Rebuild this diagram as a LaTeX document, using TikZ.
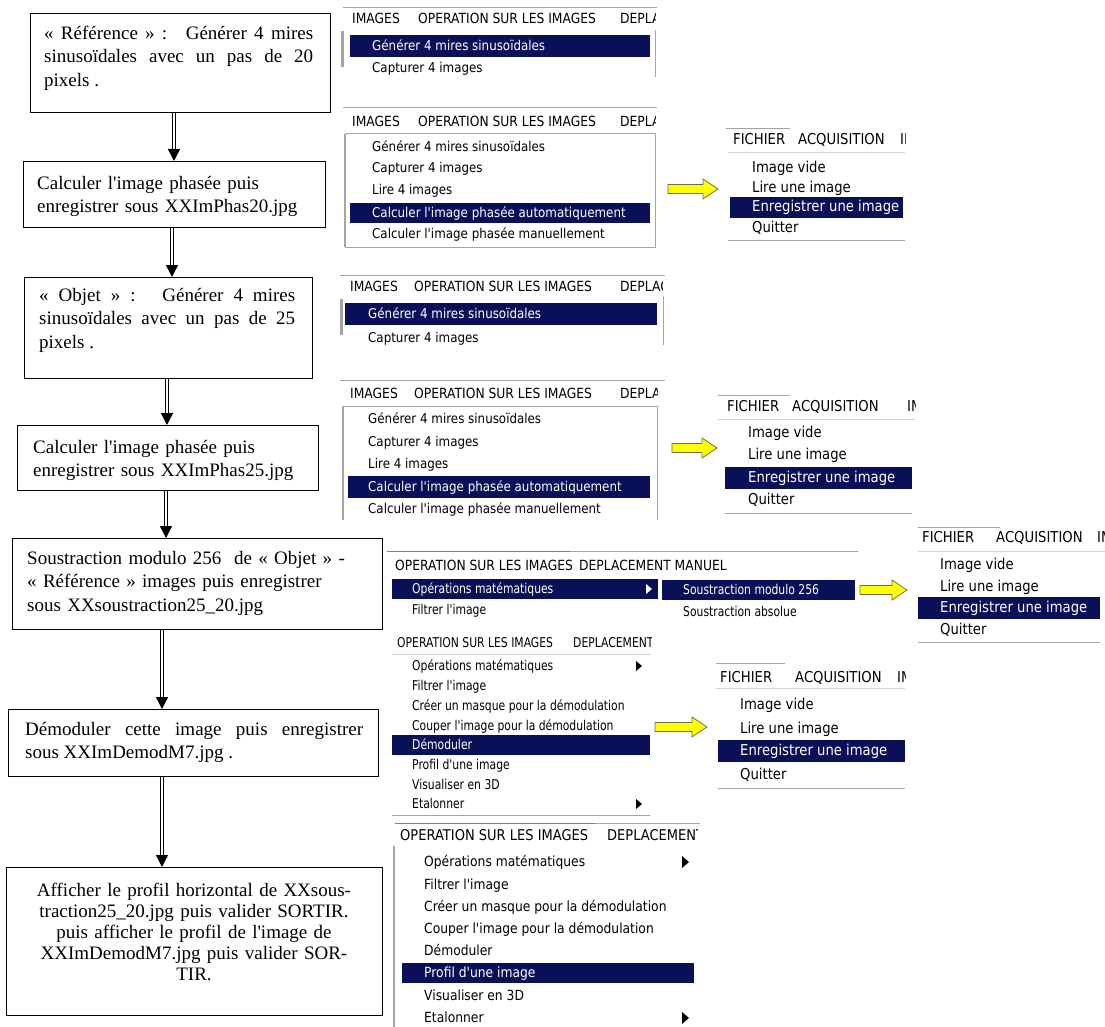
\documentclass[tikz,border=0pt]{standalone}
\usepackage{fontspec}
\setmainfont{Liberation Serif}
\newfontfamily\mf{DejaVu Sans}[FakeStretch=0.88]
\newfontfamily\mfc{DejaVu Sans}[FakeStretch=0.80]
\usetikzlibrary{arrows.meta}
\definecolor{hlnavy}{RGB}{10,16,88}
\definecolor{frm}{RGB}{165,165,165}
\definecolor{yel}{RGB}{255,255,0}
\definecolor{yedge}{RGB}{110,110,70}
\begin{document}
\begin{tikzpicture}[x=1pt,y=-1pt,
  box/.style={draw, line width=1.1pt, anchor=north west, inner sep=0pt},
  btext/.style={anchor=north west, inner sep=0pt, font=\fontsize{19}{23.5}\selectfont},
  dblarrow/.style={double, double distance=2pt, line width=1.4pt, -{Triangle[length=12pt,width=12pt]}},
  mi/.style={anchor=west, inner sep=0pt, text height=11pt, text depth=2pt, font=\mf\fontsize{13.5}{15}\selectfont},
  mbar/.style={mi, font=\mf\fontsize{14}{15}\selectfont},
  mbarg/.style={mi, font=\mf\fontsize{14.8}{16}\selectfont},
  mic/.style={mi, font=\mfc\fontsize{13.5}{15}\selectfont},
  mig/.style={mi, font=\mf\fontsize{14}{16}\selectfont},
  mif/.style={mi, font=\mf\fontsize{15}{17}\selectfont},
  wt/.style={text=white},
  hl/.style={fill=hlnavy},
  mline/.style={draw=frm, line width=1pt},
  yarrow/.pic={\draw[fill=yel, draw=yedge, line width=0.8pt]
     (0,-4.5) -- (#1-15,-4.5) -- (#1-15,-10) -- (#1,0) -- (#1-15,10) -- (#1-15,4.5) -- (0,4.5) -- cycle;},
]
\useasboundingbox[fill=white] (0,0) rectangle (1105,1027);

% ---------------- left flow boxes ----------------
\node[box, minimum width=300, minimum height=99] (b1) at (30,13) {};
\node[box, minimum width=302, minimum height=66] (b2) at (23,161) {};
\node[box, minimum width=288, minimum height=101] (b3) at (24,277) {};
\node[box, minimum width=301, minimum height=65] (b4) at (17,425) {};
\node[box, minimum width=370, minimum height=91] (b5) at (12,538) {};
\node[box, minimum width=370, minimum height=67] (b6) at (8,709) {};
\node[box, minimum width=376, minimum height=148] (b7) at (6,867) {};

\node[btext, text width=269, align=justify] (t1) at (44,22.5)
  {\strut«~Référence~»~:~ Générer 4 mires\linebreak sinusoïdales avec un pas de 20\linebreak pixels .};
\node[btext, text width=290, align=left] (t2) at (37,172.5)
  {\strut Calculer l\textquotesingle image phasée puis\\enregistrer sous XXImPhas20.jpg};
\node[btext, text width=256, align=justify] (t3) at (39,284.5)
  {\strut«~Objet~»~:~ Générer 4 mires\linebreak sinusoïdales avec un pas de 25\linebreak pixels .};
\node[btext, text width=290, align=left] (t4) at (33,436.5)
  {\strut Calculer l\textquotesingle image phasée puis\\enregistrer sous XXImPhas25.jpg};
\node[btext, text width=350, align=left] (t5) at (27,547.5)
  {\strut Soustraction modulo 256~ de «~Objet~» -\\«~Référence~» images puis enregistrer\\sous XXsoustraction25\_20.jpg};
\node[btext, text width=338, align=justify] (t6) at (25,718.5)
  {\strut Démoduler cette image puis enregistrer\linebreak sous XXImDemodM7.jpg .};
\node[btext, anchor=north, text width=370, align=center, font=\fontsize{19}{21}\selectfont] (t7) at (194,881.3)
  {\strut Afficher le profil horizontal de XXsous-\\traction25\_20.jpg puis valider SORTIR.\\puis afficher le profil de l\textquotesingle image de\\XXImDemodM7.jpg puis valider SOR-\\TIR.};

\coordinate (x1) at (174,0);
\coordinate (x2) at (172,0);
\coordinate (x3) at (167,0);
\coordinate (x4) at (166,0);
\coordinate (x5) at (162,0);
\coordinate (x6) at (162,0);
\draw[dblarrow] (b1.south -| x1) -- (b2.north -| x1);
\draw[dblarrow] (b2.south -| x2) -- (b3.north -| x2);
\draw[dblarrow] (b3.south -| x3) -- (b4.north -| x3);
\draw[dblarrow] (b4.south -| x4) -- (b5.north -| x4);
\draw[dblarrow] (b5.south -| x5) -- (b6.north -| x5);
\draw[dblarrow] (b6.south -| x6) -- (b7.north -| x6);

% ---------------- Menu A ----------------
\draw[mline] (343,8) -- (657,8);
\draw[draw=frm, line width=3pt] (342,31) -- (342,67);
\draw[mline] (655,30) -- (655,77);
\node[mbar] (mA1) at (352,19) {IMAGES};
\node[mbar] (mA2) at (418,19) {OPERATION SUR LES IMAGES};
\begin{scope}\clip (600,8) rectangle (655,32); \node[mbar] (mA3) at (620,19) {DEPLACEMENT};\end{scope}
\fill[hl] (350,35) rectangle (650,57);
\node[mi, wt] (mA4) at (372,46) {Générer 4 mires sinusoïdales};
\node[mi] (mA5) at (372,68) {Capturer 4 images};

% ---------------- Menu B ----------------
\draw[mline] (343,108) -- (657,108);
\node[mbar] (mB1) at (352,122) {IMAGES};
\node[mbar] (mB2) at (418,122) {OPERATION SUR LES IMAGES};
\begin{scope}\clip (600,108) rectangle (655,132); \node[mbar] (mB3) at (620,122) {DEPLACEMENT};\end{scope}
\draw[mline] (345,134) -- (655,134) -- (655,247) -- (345,247);
\draw[draw=frm, line width=2pt] (345,134) -- (345,247);
\node[mi] (mB4) at (372,147) {Générer 4 mires sinusoïdales};
\node[mi] (mB5) at (372,168) {Capturer 4 images};
\node[mi] (mB6) at (372,190) {Lire 4 images};
\fill[hl] (350,203) rectangle (650,223);
\node[mi, wt] (mB7) at (372,213) {Calculer l'image phasée automatiquement};
\node[mi] (mB8) at (372,234) {Calculer l'image phasée manuellement};

\pic (yB) at (668,189) {yarrow=50};

\draw[mline] (726,129) -- (790,129);
\draw[draw=frm!50, line width=0.8pt] (728,152) -- (905,152);
\node[mif] (fB1) at (733,140) {FICHIER};
\node[mif] (fB2) at (798,140) {ACQUISITION};
\begin{scope}\clip (880,128) rectangle (905,152); \node[mif] (fB3) at (900,140) {IMAGE};\end{scope}
\node[mif] (fB4) at (752,168) {Image vide};
\node[mif] (fB5) at (752,188) {Lire une image};
\fill[hl] (730,197) rectangle (903,218);
\node[mif, wt] (fB6) at (752,207) {Enregistrer une image};
\node[mif] (fB7) at (752,228) {Quitter};
\draw[mline] (728,240) -- (905,240);

% ---------------- Menu C ----------------
\draw[mline] (340,275) -- (665,275);
\node[mbar] (mC1) at (350,287) {IMAGES};
\node[mbar] (mC2) at (414,287) {OPERATION SUR LES IMAGES};
\begin{scope}\clip (600,275) rectangle (662,298); \node[mbar] (mC3) at (620,287) {DEPLACEMENT};\end{scope}
\draw[draw=frm, line width=3pt] (341,299) -- (341,335);
\draw[mline] (663,296) -- (663,345);
\fill[hl] (345,303) rectangle (657,325);
\node[mi, wt] (mC4) at (368,314) {Générer 4 mires sinusoïdales};
\node[mi] (mC5) at (368,338) {Capturer 4 images};

% ---------------- Menu D ----------------
\draw[mline] (340,380) -- (665,380);
\node[mbar] (mD1) at (350,394) {IMAGES};
\node[mbar] (mD2) at (414,394) {OPERATION SUR LES IMAGES};
\begin{scope}\clip (600,380) rectangle (657,405); \node[mbar] (mD3) at (620,394) {DEPLACEMENT};\end{scope}
\draw[mline] (343,406) -- (657,406) -- (657,520);
\draw[draw=frm, line width=2pt] (343,406) -- (343,520);
\node[mi] (mD4) at (368,419) {Générer 4 mires sinusoïdales};
\node[mi] (mD5) at (368,442) {Capturer 4 images};
\node[mi] (mD6) at (368,464) {Lire 4 images};
\fill[hl] (348,476) rectangle (650,498);
\node[mi, wt] (mD7) at (368,487) {Calculer l'image phasée automatiquement};
\node[mi] (mD8) at (368,509) {Calculer l'image phasée manuellement};

\pic (yD) at (672,448) {yarrow=45};

\draw[mline] (718,395) -- (790,395);
\draw[draw=frm!50, line width=0.8pt] (718,419) -- (915,419);
\node[mif] (fD1) at (727,407) {FICHIER};
\node[mif] (fD2) at (792,407) {ACQUISITION};
\begin{scope}\clip (890,395) rectangle (915,419); \node[mif] (fD3) at (907,407) {IMAGE};\end{scope}
\node[mif] (fD4) at (748,433) {Image vide};
\node[mif] (fD5) at (748,455) {Lire une image};
\fill[hl] (725,467) rectangle (912,489);
\node[mif, wt] (fD6) at (748,478) {Enregistrer une image};
\node[mif] (fD7) at (748,500) {Quitter};
\draw[mline] (725,513) -- (912,513);

% ---------------- Menu E ----------------
\draw[mline] (387,551) -- (858,551);
\draw[draw=gray, line width=1pt] (387,551) -- (570,551);
\node[mbar] (mE1) at (395,566) {OPERATION SUR LES IMAGES};
\node[mbar] (mE2) at (579,566) {DEPLACEMENT MANUEL};
\fill[hl] (392,579) rectangle (658,599);
\node[mic, wt] (mE3) at (412,589) {Opérations matématiques};
\fill[white] (646,584) -- (652,589) -- (646,594) -- cycle;
\fill[hl] (662,580) rectangle (855,600);
\node[mic, wt] (mE4) at (683,590) {Soustraction modulo 256};
\node[mic] (mE5) at (412,610) {Filtrer l'image};
\node[mic] (mE6) at (683,612) {Soustraction absolue};

\pic (yE) at (860,590) {yarrow=47};

\draw[mline] (918,527) -- (1000,527);
\draw[draw=frm!50, line width=0.8pt] (918,551) -- (1105,551);
\node[mif] (fE1) at (922,538) {FICHIER};
\node[mif] (fE2) at (996,538) {ACQUISITION};
\begin{scope}\clip (1080,527) rectangle (1105,551); \node[mif] (fE3) at (1097,538) {IMAGE};\end{scope}
\node[mif] (fE4) at (940,565) {Image vide};
\node[mif] (fE5) at (940,587) {Lire une image};
\fill[hl] (918,597) rectangle (1100,619);
\node[mif, wt] (fE6) at (940,608) {Enregistrer une image};
\node[mif] (fE7) at (940,630) {Quitter};
\draw[mline] (918,642) -- (1100,642);

% ---------------- Menu F ----------------
\node[mic] (mF1) at (397,643) {OPERATION SUR LES IMAGES};
\begin{scope}\clip (560,630) rectangle (651,655); \node[mic] (mF2) at (573,643) {DEPLACEMENT MANUEL};\end{scope}
\draw[draw=frm!50, line width=0.8pt] (392,654) -- (651,654);
\node[mic] (mF3) at (412,666) {Opérations matématiques};
\fill (636,661) -- (642,666) -- (636,671) -- cycle;
\node[mic] (mF4) at (412,686) {Filtrer l'image};
\node[mic] (mF5) at (412,706) {Créer un masque pour la démodulation};
\node[mic] (mF6) at (412,726) {Couper l'image pour la démodulation};
\fill[hl] (392,735) rectangle (650,755);
\node[mic, wt] (mF7) at (412,745) {Démoduler};
\node[mic] (mF8) at (412,765) {Profil d'une image};
\node[mic] (mF9) at (412,785) {Visualiser en 3D};
\node[mic] (mF10) at (412,804) {Etalonner};
\fill (636,799) -- (642,804) -- (636,809) -- cycle;
\draw[mline] (392,815) -- (650,815);

\pic (yF) at (655,727) {yarrow=52};

\draw[mline] (716,663) -- (785,663);
\draw[draw=frm!50, line width=0.8pt] (716,688) -- (905,688);
\node[mif] (fF1) at (720,678) {FICHIER};
\node[mif] (fF2) at (795,678) {ACQUISITION};
\begin{scope}\clip (880,663) rectangle (905,688); \node[mif] (fF3) at (897,678) {IMAGE};\end{scope}
\node[mif] (fF4) at (740,705) {Image vide};
\node[mif] (fF5) at (740,729) {Lire une image};
\fill[hl] (718,740) rectangle (905,762);
\node[mif, wt] (fF6) at (740,751) {Enregistrer une image};
\node[mif] (fF7) at (740,775) {Quitter};
\draw[mline] (718,788) -- (905,788);

% ---------------- Menu G ----------------
\draw[mline] (395,823) -- (700,823);
\draw[draw=gray, line width=1pt] (395,823) -- (595,823);
\node[mbarg] (mG1) at (400,836) {OPERATION SUR LES IMAGES};
\begin{scope}\clip (590,823) rectangle (697,848); \node[mbarg] (mG2) at (607,836) {DEPLACEMENT MANUEL};\end{scope}
\draw[draw=frm, line width=2.5pt] (394,846) -- (394,1027);
\node[mig] (mG3) at (424,862) {Opérations matématiques};
\fill (682,856) -- (689,862) -- (682,868) -- cycle;
\node[mig] (mG4) at (424,885) {Filtrer l'image};
\node[mig] (mG5) at (424,907) {Créer un masque pour la démodulation};
\node[mig] (mG6) at (424,929) {Couper l'image pour la démodulation};
\node[mig] (mG7) at (424,951) {Démoduler};
\fill[hl] (402,963) rectangle (694,983);
\node[mig, wt] (mG8) at (424,973) {Profil d'une image};
\node[mig] (mG9) at (424,996) {Visualiser en 3D};
\node[mig] (mG10) at (424,1018) {Etalonner};
\fill (682,1012) -- (689,1018) -- (682,1024) -- cycle;
\end{tikzpicture}
\end{document}
